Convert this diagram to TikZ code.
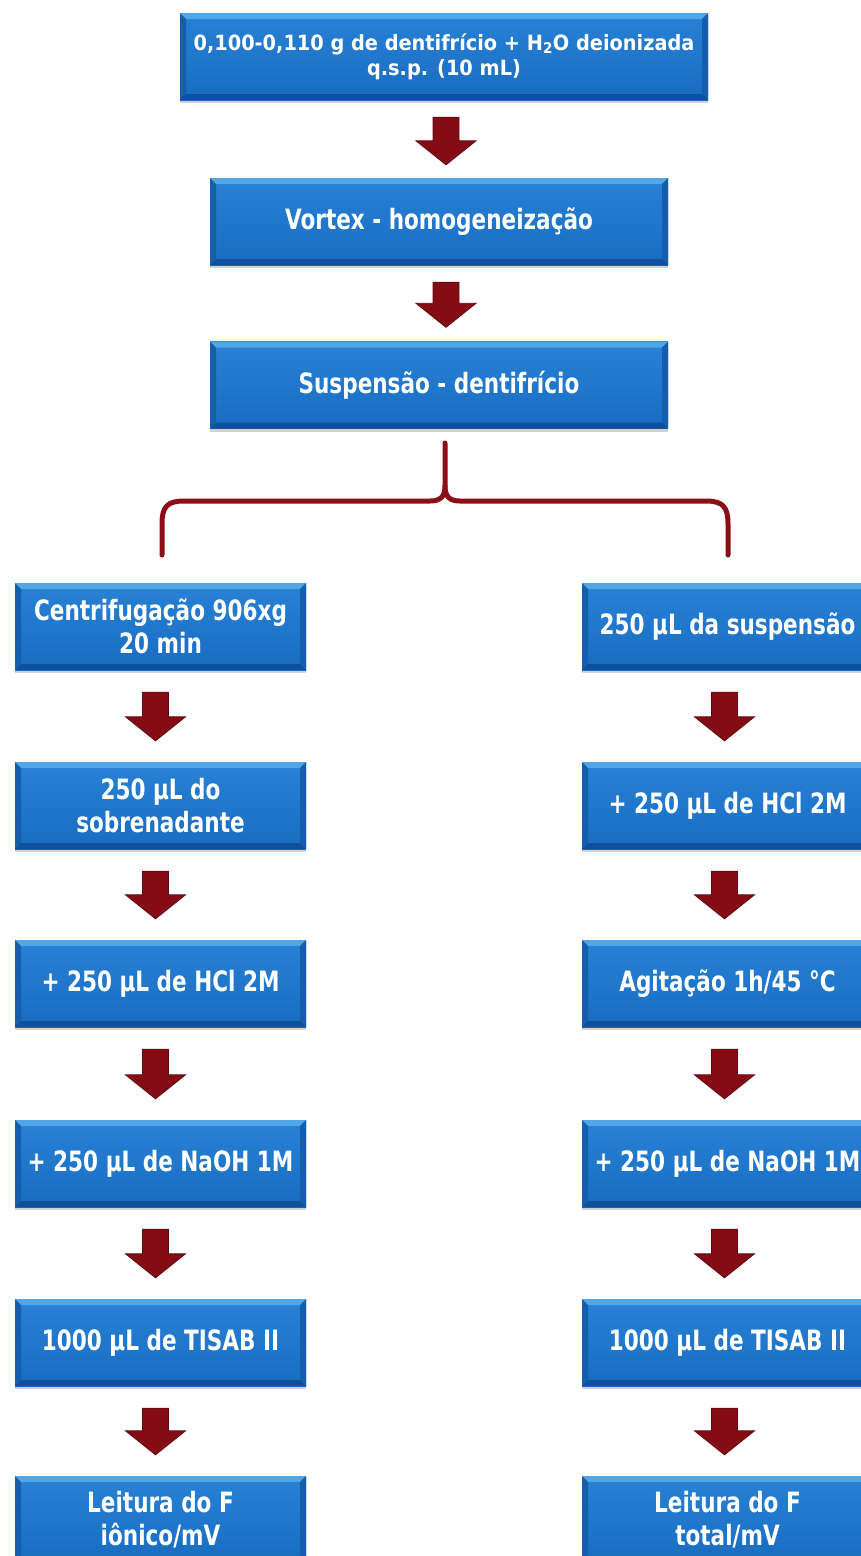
\documentclass[tikz,border=0pt]{standalone}
\usepackage{fontspec}
\setmainfont{DejaVu Sans}[FakeStretch=0.77]
\newfontfamily\topfont{DejaVu Sans}[FakeStretch=0.92]
\usetikzlibrary{shadows}
\definecolor{boxtop}{RGB}{40,130,214}
\definecolor{boxbot}{RGB}{24,108,192}
\definecolor{bevlight}{RGB}{82,166,232}
\definecolor{bevdark}{RGB}{20,94,172}
\definecolor{bevbottom}{RGB}{14,80,156}
\definecolor{arrowred}{RGB}{132,12,18}
\definecolor{arrowedge}{RGB}{92,10,22}
\definecolor{bracered}{RGB}{138,16,22}
\tikzset{
  stepbox/.style={rectangle, minimum height=87pt, inner sep=0pt, text=white,
    font=\bfseries\fontsize{28}{33}\selectfont, align=center,
    top color=boxtop, bottom color=boxbot,
    drop shadow={shadow xshift=0pt, shadow yshift=-3pt, opacity=0.18, fill=black},
    path picture={
      \fill[bevlight] (path picture bounding box.north west) -- (path picture bounding box.north east)
        -- ([xshift=-6pt,yshift=-6pt]path picture bounding box.north east)
        -- ([xshift=6pt,yshift=-6pt]path picture bounding box.north west) -- cycle;
      \fill[bevdark] (path picture bounding box.north west) -- ([xshift=6pt,yshift=-6pt]path picture bounding box.north west)
        -- ([xshift=6pt,yshift=6pt]path picture bounding box.south west) -- (path picture bounding box.south west) -- cycle;
      \fill[bevdark] (path picture bounding box.north east) -- ([xshift=-6pt,yshift=-6pt]path picture bounding box.north east)
        -- ([xshift=-6pt,yshift=6pt]path picture bounding box.south east) -- (path picture bounding box.south east) -- cycle;
      \fill[bevbottom] (path picture bounding box.south west) -- ([xshift=6pt,yshift=6pt]path picture bounding box.south west)
        -- ([xshift=-6pt,yshift=6pt]path picture bounding box.south east) -- (path picture bounding box.south east) -- cycle;
    }},
  colbox/.style={stepbox, minimum width=291pt},
  blockarrow/.style={fill=arrowred, draw=arrowedge, line width=0.8pt, line join=miter},
  bracestyle/.style={draw=bracered, line width=5pt, line cap=round, line join=round}
}
% #1 xshift, #2 from, #3 to, #4 gap below source, #5 gap above target
\newcommand{\blockarr}[5]{%
  \coordinate (arrtop) at (#2.south -| #3.north);
  \path[blockarrow]
    ([xshift=#1-13pt,yshift=-#4]arrtop) -- ([xshift=#1+13pt,yshift=-#4]arrtop)
    -- ([xshift=#1+13pt,yshift=#5+24pt]#3.north) -- ([xshift=#1+30pt,yshift=#5+24pt]#3.north)
    -- ([xshift=#1,yshift=#5]#3.north)
    -- ([xshift=#1-30pt,yshift=#5+24pt]#3.north) -- ([xshift=#1-13pt,yshift=#5+24pt]#3.north) -- cycle;}
\begin{document}
\begin{tikzpicture}[x=1pt,y=-1pt]
\useasboundingbox (0,0) rectangle (861,1556);
\fill[white] (0,0) rectangle (861,1556);
\clip (0,0) rectangle (861,1556);

\node[stepbox, minimum width=528pt, font=\topfont\bfseries\fontsize{21}{25}\selectfont] (top) at (444,56.5)
  {0,100-0,110 g de dentifrício + H\textsubscript{2}O deionizada\\q.s.p. (10 mL)};
\node[stepbox, minimum width=458pt] (vortex) at (439,221.5) {Vortex - homogeneização};
\node[stepbox, minimum width=458pt] (susp) at (439,385) {Suspensão - dentifrício};

\blockarr{7pt}{top}{vortex}{17pt}{13pt}
\blockarr{7pt}{vortex}{susp}{17pt}{14pt}

% brace
\coordinate (bracetip) at (445,443);
\coordinate (braceL) at (162,555);
\coordinate (braceR) at (728,555);
\draw[bracestyle] (braceL) -- (162,524) .. controls (162,507) and (167,501) .. (184,501)
  -- (430,501) .. controls (440,501) and (445,497) .. (445,486) -- (bracetip);
\draw[bracestyle] (braceR) -- (728,524) .. controls (728,507) and (723,501) .. (706,501)
  -- (460,501) .. controls (450,501) and (445,497) .. (445,486);

% left column
\node[colbox] (l1) at (160.5,626.5) {Centrifugação 906xg\\20 min};
\node[colbox] (l2) at (160.5,805.5) {250 µL do\\sobrenadante};
\node[colbox] (l3) at (160.5,983.5) {+ 250 µL de HCl 2M};
\node[colbox] (l4) at (160.5,1163.5) {+ 250 µL de NaOH 1M};
\node[colbox] (l5) at (160.5,1342.5) {1000 µL de TISAB II};
\node[colbox] (l6) at (160.5,1519.5) {Leitura do F\\iônico/mV};

% right column
\node[colbox] (r1) at (727.5,626.5) {250 µL da suspensão};
\node[colbox] (r2) at (727.5,805.5) {+ 250 µL de HCl 2M};
\node[colbox] (r3) at (727.5,983.5) {Agitação 1h/45 °C};
\node[colbox] (r4) at (727.5,1163.5) {+ 250 µL de NaOH 1M};
\node[colbox] (r5) at (727.5,1342.5) {1000 µL de TISAB II};
\node[colbox] (r6) at (727.5,1519.5) {Leitura do F\\total/mV};

\foreach \a/\b in {l1/l2,l2/l3,l3/l4,l4/l5,l5/l6}{\blockarr{-5pt}{\a}{\b}{22pt}{21pt}}
\foreach \a/\b in {r1/r2,r2/r3,r3/r4,r4/r5,r5/r6}{\blockarr{-3pt}{\a}{\b}{22pt}{21pt}}
\end{tikzpicture}
\end{document}
